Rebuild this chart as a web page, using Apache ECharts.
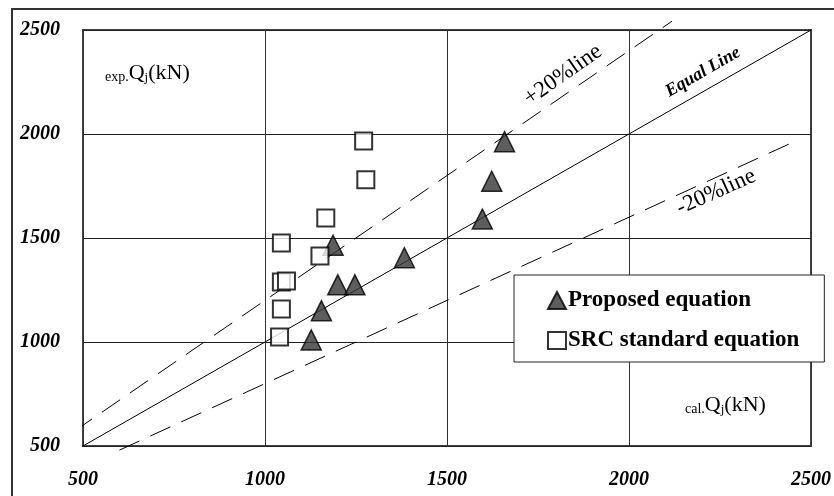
<!DOCTYPE html>
<html>
<head>
<meta charset="utf-8">
<script src="https://cdn.jsdelivr.net/npm/echarts@6/dist/echarts.min.js"></script>
<style>
html,body{margin:0;padding:0;background:#fff;}
#chart{width:834px;height:496px;}
</style>
</head>
<body>
<div id="chart"></div>
<script>
// ---- data ----
var axisTicks = [500, 1000, 1500, 2000, 2500];
var proposedCal = [1127, 1155, 1200, 1247, 1187, 1383, 1597, 1623, 1658];
var proposedExp = [1010, 1150, 1275, 1275, 1465, 1405, 1591, 1773, 1963];
var srcCal = [1040, 1045, 1045, 1059, 1045, 1151, 1167, 1277, 1271];
var srcExp = [1024, 1159, 1288, 1293, 1476, 1413, 1596, 1780, 1966];
var equalLine = [[475, 475], [2500, 2500]];
var plus20Line = [[475, 570], [2118, 2542]];
var minus20Line = [[600, 480], [2455, 1964]];
var seriesNames = ['Proposed equation', 'SRC standard equation'];

function zip(a, b) { return a.map(function (v, i) { return [v, b[i]]; }); }

var serif = "'Liberation Serif', 'Times New Roman', serif";
var chart = echarts.init(document.getElementById('chart'));

function axisLabel(margin) {
  return {
    margin: margin,
    fontFamily: serif, fontStyle: 'italic', fontWeight: 'bold', fontSize: 20, color: '#000',
    formatter: function (v) { return String(v); }
  };
}

var option = {
  animation: false,
  backgroundColor: '#fff',
  grid: {
    left: 83, right: 17, top: 30, bottom: 50,
    show: true, borderColor: '#444', borderWidth: 2, backgroundColor: 'transparent'
  },
  xAxis: {
    type: 'value', min: axisTicks[0], max: axisTicks[axisTicks.length - 1], interval: 500,
    axisLine: { show: false }, axisTick: { show: false },
    splitLine: { show: true, lineStyle: { color: '#333', width: 1 } },
    axisLabel: axisLabel(24)
  },
  yAxis: {
    type: 'value', min: axisTicks[0], max: axisTicks[axisTicks.length - 1], interval: 500,
    axisLine: { show: false }, axisTick: { show: false },
    splitLine: { show: true, lineStyle: { color: '#222', width: 1 } },
    axisLabel: axisLabel(23)
  },
  legend: {
    data: seriesNames,
    orient: 'vertical',
    left: 514, top: 275,
    padding: [14, 25, 10, 33],
    itemGap: 17,
    itemWidth: 18, itemHeight: 17,
    backgroundColor: '#fff',
    borderColor: '#222', borderWidth: 1, borderRadius: 0,
    textStyle: { fontFamily: serif, fontWeight: 'bold', fontSize: 23, color: '#000', padding: [0, 0, 0, -3] }
  },
  series: [
    {
      type: 'line', data: equalLine, clip: false, symbol: 'none', silent: true, z: 1,
      lineStyle: { color: '#000', width: 1 }
    },
    {
      type: 'line', data: plus20Line, clip: false, symbol: 'none', silent: true, z: 1,
      lineStyle: { color: '#000', width: 1, type: [22, 12] }
    },
    {
      type: 'line', data: minus20Line, clip: false, symbol: 'none', silent: true, z: 1,
      lineStyle: { color: '#000', width: 1, type: [22, 12] }
    },
    {
      name: seriesNames[0], type: 'scatter', data: zip(proposedCal, proposedExp),
      symbol: 'triangle', symbolSize: 20, z: 3,
      itemStyle: { color: '#363636', borderColor: '#000', borderWidth: 1.5 }
    },
    {
      name: seriesNames[1], type: 'scatter', data: zip(srcCal, srcExp),
      symbol: 'rect', symbolSize: 17, z: 4,
      itemStyle: { color: '#fff', borderColor: '#000', borderWidth: 2 }
    }
  ],
  graphic: [
    {
      type: 'rect', silent: true, z: 0,
      shape: { x: 12, y: 9, width: 900, height: 600 },
      style: { fill: 'none', stroke: '#333', lineWidth: 2 }
    },
    {
      type: 'text', left: 105, top: 62, silent: true, z: 10,
      style: {
        text: '{s|exp.}{b|Q}{j|j}{b|(kN)}',
        rich: {
          s: { fontFamily: serif, fontSize: 14, lineHeight: 14, verticalAlign: 'bottom', fill: '#000' },
          b: { fontFamily: serif, fontSize: 22, lineHeight: 22, verticalAlign: 'bottom', fill: '#000' },
          j: { fontFamily: serif, fontSize: 13, lineHeight: 6, verticalAlign: 'bottom', fill: '#000' }
        }
      }
    },
    {
      type: 'text', left: 685, top: 394, silent: true, z: 10,
      style: {
        text: '{s|cal.}{b|Q}{j|j}{b|(kN)}',
        rich: {
          s: { fontFamily: serif, fontSize: 14, lineHeight: 14, verticalAlign: 'bottom', fill: '#000' },
          b: { fontFamily: serif, fontSize: 22, lineHeight: 22, verticalAlign: 'bottom', fill: '#000' },
          j: { fontFamily: serif, fontSize: 13, lineHeight: 6, verticalAlign: 'bottom', fill: '#000' }
        }
      }
    },
    {
      type: 'text', x: 563, y: 75, rotation: 35 * Math.PI / 180, silent: true, z: 10,
      style: { text: '+20%line', fontFamily: serif, fontSize: 23, fill: '#000', align: 'center', verticalAlign: 'middle' }
    },
    {
      type: 'text', x: 716, y: 192, rotation: 24 * Math.PI / 180, silent: true, z: 10,
      style: { text: '-20%line', fontFamily: serif, fontSize: 23, fill: '#000', align: 'center', verticalAlign: 'middle' }
    },
    {
      type: 'text', x: 703, y: 72, rotation: 30 * Math.PI / 180, silent: true, z: 10,
      style: { text: 'Equal Line', fontFamily: serif, fontSize: 18, fontStyle: 'italic', fontWeight: 'bold', fill: '#000', align: 'center', verticalAlign: 'middle' }
    }
  ]
};
chart.setOption(option);
</script>
</body>
</html>
